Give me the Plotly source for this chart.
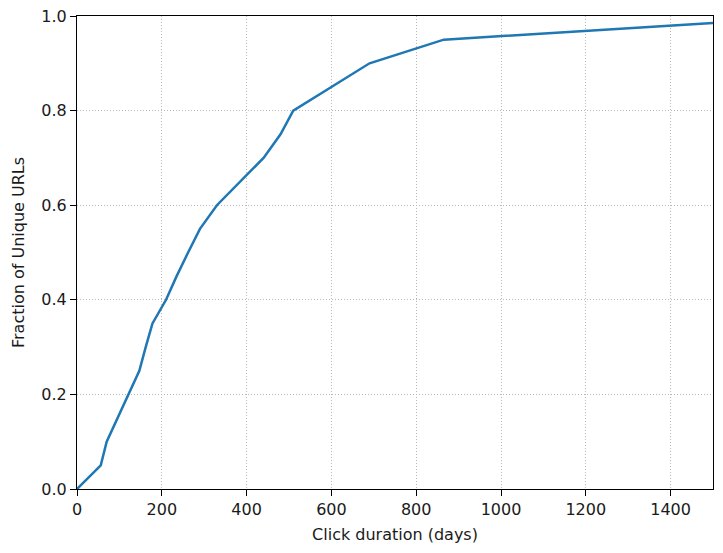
import plotly.graph_objects as go

# CDF of click duration
duration_days = [0, 56, 70, 96, 121, 147, 162, 178, 210, 235, 262, 290, 330, 385, 440, 480, 510, 600, 690, 865, 1500]
fraction_urls = [0, 0.05, 0.1, 0.15, 0.2, 0.25, 0.3, 0.35, 0.4, 0.45, 0.5, 0.55, 0.6, 0.65, 0.7, 0.75, 0.8, 0.85, 0.9, 0.95, 0.985]

x_ticks = [0, 200, 400, 600, 800, 1000, 1200, 1400]
y_ticks = [0.0, 0.2, 0.4, 0.6, 0.8, 1.0]

fig = go.Figure(go.Scatter(
    x=duration_days,
    y=fraction_urls,
    mode='lines',
    line=dict(color='#1f77b4', width=2.5),
    showlegend=False,
))

axis_style = dict(
    showline=True, linecolor='black', linewidth=1.2, mirror=True,
    ticks='outside', ticklen=6, tickwidth=1.2, tickcolor='black',
    showgrid=True, gridcolor='#b8b8b8', gridwidth=1, griddash='1px,2px',
    zeroline=False, automargin=False,
    tickfont=dict(size=16, color='#1a1a1a'),
)

fig.update_layout(
    width=723, height=553,
    margin=dict(l=77, r=10, t=16, b=64),
    plot_bgcolor='white', paper_bgcolor='white',
    font=dict(family='DejaVu Sans', color='#1a1a1a'),
    xaxis=dict(axis_style, range=[0, 1500], tickvals=x_ticks,
               title=dict(text='Click duration (days)', font=dict(size=16), standoff=10)),
    yaxis=dict(axis_style, range=[0, 1.0], tickvals=y_ticks, tickformat='.1f',
               title=dict(text='Fraction of Unique URLs', font=dict(size=16), standoff=12)),
)

# drop the default 8px page margin so the figure sits at the window corner
fig.write_html("out.html", config={'displayModeBar': False},
               post_script="document.body.style.margin='0';")
